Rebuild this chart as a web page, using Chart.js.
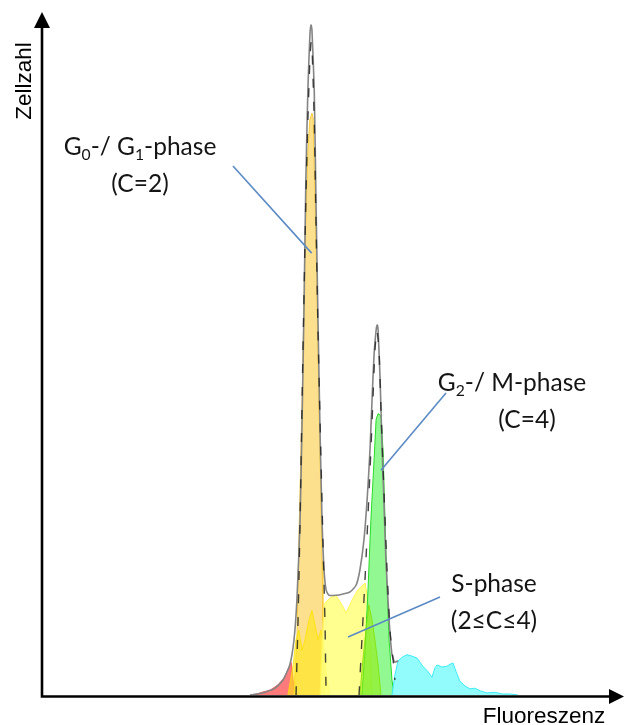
<!DOCTYPE html>
<html>
<head>
<meta charset="utf-8">
<title>Zellzyklus – DNA-Histogramm</title>
<script src="https://cdn.jsdelivr.net/npm/chart.js@4.4.1/dist/chart.umd.min.js"></script>
<style>
  html, body { margin: 0; padding: 0; background: #ffffff; }
  #wrap { width: 625px; height: 725px; position: relative; }
</style>
</head>
<body>
<div id="wrap"><canvas id="histo"></canvas></div>
<script>
// Fluorescence channel (0–200) and cell count (0–1000) for each population

// total histogram (envelope)
const totalChannel = [72.0, 74.4, 77.2, 80.6, 83.4, 85.8, 87.2, 88.2, 89.3, 90.0, 90.7, 91.3, 92.0, 92.7, 93.1, 93.4, 94.2, 94.8, 95.5, 96.2, 96.9, 97.6, 98.3, 99.3, 101.7, 104.2, 106.6, 108.7, 110.0, 111.4, 112.5, 113.5, 114.2, 114.9, 115.6, 116.0, 116.3, 117.0, 117.6, 118.3, 119.0, 120.1, 121.1, 122.1, 123.2];
const totalCount   = [0, 1.5, 4, 10, 22, 45, 81, 139, 256, 403, 578, 754, 886, 966, 981, 974, 886, 725, 549, 388, 256, 183, 154, 146, 146, 148, 151, 161, 183, 227, 286, 359, 432, 498, 534, 542, 534, 461, 373, 286, 198, 110, 59, 48, 50];

// debris, left of G0/G1
const debrisChannel = [72.0, 74.4, 76.1, 78.9, 81.7, 83.7, 85.1, 86.2, 86.9, 87.5];
const debrisCount   = [0, 1.5, 4, 7, 15, 25, 37, 48, 22, 0];

// G0/G1 population (C=2)
const g1Channel = [87.2, 88.2, 88.9, 90.0, 91.0, 92.0, 92.7, 93.4, 93.8, 94.5, 95.2, 95.8, 96.5, 96.9, 97.2, 97.6];
const g1Count   = [0, 81, 227, 432, 652, 798, 842, 852, 845, 725, 578, 432, 286, 198, 110, 0];

// early S population
const earlySChannel = [85.1, 86.9, 87.9, 88.9, 90.0, 91.0, 92.4, 93.4, 94.5, 95.5, 96.5, 97.6, 98.6, 99.7];
const earlySCount   = [0, 44, 81, 95, 66, 81, 110, 124, 102, 81, 95, 66, 22, 0];

// S-phase population (2 ≤ C ≤ 4)
const sChannel = [96.2, 96.9, 97.9, 99.7, 101.7, 103.8, 105.2, 107.3, 109.3, 111.8, 112.8, 113.5, 114.2];
const sCount   = [0, 81, 135, 142, 146, 132, 120, 139, 154, 164, 139, 81, 0];

// late S population
const lateSChannel = [110.0, 111.0, 112.1, 113.1, 114.2, 115.2, 116.3, 117.3];
const lateSCount   = [0, 51, 95, 132, 110, 81, 44, 0];

// G2/M population (C=4)
const g2Channel = [110.7, 111.8, 112.8, 113.8, 114.9, 115.6, 116.3, 117.3, 118.0, 118.7, 119.4, 120.1, 121.1, 121.8];
const g2Count   = [0, 66, 154, 256, 344, 403, 412, 409, 359, 256, 154, 81, 22, 0];

// aggregates (C > 4)
const aggChannel = [121.1, 122.1, 123.2, 124.9, 126.3, 128.0, 129.8, 131.8, 133.6, 134.9, 136.0, 136.7, 138.4, 140.1, 141.2, 142.2, 143.3, 144.6, 146.4, 148.1, 149.8, 151.6, 154.0, 156.7, 159.2, 161.9, 164.7];
const aggCount   = [0, 29, 50, 56, 59, 57, 54, 42, 34, 26, 40, 44, 41, 42, 45, 47, 34, 20, 13, 9, 10, 6, 3, 4, 1.5, 1.5, 0];

// fitted peak models
const fitG1Channel = [87.9, 88.6, 89.3, 90.3, 91.3, 92.0, 92.7, 93.1, 93.4, 94.2, 94.8, 95.5, 96.2, 97.2, 97.9, 98.3];
const fitG1Count   = [0, 110, 256, 505, 725, 842, 930, 956, 952, 842, 695, 534, 403, 227, 110, 0];
const fitG2Channel = [109.7, 110.7, 112.1, 113.5, 114.5, 115.2, 115.9, 116.6, 117.3, 118.3, 119.4, 120.4, 121.5, 122.1];
const fitG2Count   = [0, 81, 198, 329, 432, 505, 534, 505, 417, 300, 183, 95, 51, 22];

const axisTitles = { y: 'Zellzahl', x: 'Fluoreszenz' };

// callout texts (rich parts: sub = subscript) with leader lines from text to peak
const callouts = [
  { lines: [[{t:'G'},{t:'0',sub:true},{t:'-/ G'},{t:'1',sub:true},{t:'-phase'}], [{t:'(C=2)'}]],
    centers: [140, 140], base: 155, from: [233, 166], to: [93.3, 647] },
  { lines: [[{t:'G'},{t:'2',sub:true},{t:'-/ M-phase'}], [{t:'(C=4)'}]],
    centers: [512, 527], base: 391, from: [446, 393], to: [117.3, 329] },
  { lines: [[{t:'S-phase'}], [{t:'(2≤C≤4)'}]],
    centers: [494, 494], base: 592, from: [440, 597], to: [105.9, 85] }
];

const pts = (xs, ys) => xs.map((x, i) => ({ x, y: ys[i] }));

function area(label, xs, ys, fill, border, order, width) {
  return {
    label, data: pts(xs, ys), order,
    backgroundColor: fill, borderColor: border, borderWidth: width === undefined ? 1 : width,
    fill: 'origin', tension: 0, pointRadius: 0
  };
}

const datasets = [
  area('Debris', debrisChannel, debrisCount, 'rgba(255,100,100,0.85)', 'rgba(255,85,85,0.9)', 9),
  area('G0/G1', g1Channel, g1Count, 'rgba(253,222,135,0.95)', 'rgba(250,205,60,1)', 8),
  area('frühe S', earlySChannel, earlySCount, 'rgba(255,232,20,0.6)', 'rgba(255,225,0,0.8)', 7),
  area('S', sChannel, sCount, 'rgba(255,255,125,0.85)', 'rgba(255,245,80,1)', 6),
  area('G2/M', g2Channel, g2Count, 'rgba(110,245,110,0.75)', 'rgba(40,220,40,1)', 5),
  area('späte S', lateSChannel, lateSCount, 'rgba(150,235,20,0.6)', 'rgba(130,225,0,0.8)', 4),
  area('Aggregate', aggChannel, aggCount, 'rgba(140,252,252,0.95)', 'rgba(60,235,245,1)', 3),
  { label: 'Summe', data: pts(totalChannel, totalCount), order: 2,
    borderColor: '#858585', borderWidth: 1.6, fill: false, tension: 0.2, pointRadius: 0 },
  { label: 'Fit G0/G1', data: pts(fitG1Channel, fitG1Count), order: 1,
    borderColor: 'rgba(35,35,35,0.85)', borderWidth: 1.4, borderDash: [9, 14], fill: false, tension: 0.2, pointRadius: 0 },
  { label: 'Fit G2/M', data: pts(fitG2Channel, fitG2Count), order: 1,
    borderColor: 'rgba(35,35,35,0.85)', borderWidth: 1.4, borderDash: [9, 14], fill: false, tension: 0.2, pointRadius: 0 }
];

const FONT = 'Lato, "Open Sans", sans-serif';
const CALLOUT_SIZE = 24.5;

function richWidth(ctx, parts, size) {
  let w = 0;
  for (const p of parts) {
    ctx.font = (p.sub ? size * 0.64 : size) + 'px ' + FONT;
    w += ctx.measureText(p.t).width;
  }
  return w;
}
function drawRich(ctx, parts, cx, base, size) {
  let x = cx - richWidth(ctx, parts, size) / 2;
  for (const p of parts) {
    ctx.font = (p.sub ? size * 0.64 : size) + 'px ' + FONT;
    ctx.fillText(p.t, x, p.sub ? base + size * 0.2 : base);
    x += ctx.measureText(p.t).width;
  }
}

const decorations = {
  id: 'decorations',
  afterDatasetsDraw(chart) {
    const { ctx, chartArea: a, scales: { x, y } } = chart;
    ctx.save();
    // leader lines
    ctx.strokeStyle = '#5b8ac4';
    ctx.lineWidth = 1.6;
    for (const c of callouts) {
      ctx.beginPath();
      ctx.moveTo(c.from[0], c.from[1]);
      ctx.lineTo(x.getPixelForValue(c.to[0]), y.getPixelForValue(c.to[1]));
      ctx.stroke();
    }
    // callout texts
    ctx.fillStyle = '#141414';
    ctx.textBaseline = 'alphabetic';
    ctx.textAlign = 'left';
    for (const c of callouts) {
      c.lines.forEach((parts, i) => drawRich(ctx, parts, c.centers[i], c.base + i * 37, CALLOUT_SIZE));
    }
    // axes with arrow heads
    const y0 = a.bottom + 1.5;
    ctx.strokeStyle = '#000';
    ctx.fillStyle = '#000';
    ctx.lineWidth = 2.6;
    ctx.beginPath();
    ctx.moveTo(a.left, y0);
    ctx.lineTo(a.left, a.top + 14);
    ctx.moveTo(a.left - 1.3, y0);
    ctx.lineTo(a.right - 8, y0);
    ctx.stroke();
    ctx.beginPath();
    ctx.moveTo(a.left, a.top);
    ctx.lineTo(a.left - 8, a.top + 16);
    ctx.lineTo(a.left + 8, a.top + 16);
    ctx.closePath();
    ctx.fill();
    ctx.beginPath();
    ctx.moveTo(a.right + 4, y0);
    ctx.lineTo(a.right - 11, y0 - 7.5);
    ctx.lineTo(a.right - 11, y0 + 7.5);
    ctx.closePath();
    ctx.fill();
    // axis titles
    ctx.font = '22.5px "Liberation Sans", Arial, sans-serif';
    ctx.textAlign = 'center';
    ctx.fillText(axisTitles.x, 544, 723);
    ctx.translate(31, 81);
    ctx.rotate(-Math.PI / 2);
    ctx.fillText(axisTitles.y, 0, 0);
    ctx.restore();
  }
};

new Chart(document.getElementById('histo'), {
  type: 'line',
  data: { datasets },
  options: {
    responsive: true,
    maintainAspectRatio: false,
    animation: false,
    layout: { padding: { left: 42, right: 5, top: 12, bottom: 30 } },
    plugins: { legend: { display: false }, tooltip: { enabled: false } },
    scales: {
      x: { type: 'linear', min: 0, max: 200, display: false },
      y: { type: 'linear', min: 0, max: 1000, display: false }
    }
  },
  plugins: [decorations]
});
</script>
</body>
</html>
